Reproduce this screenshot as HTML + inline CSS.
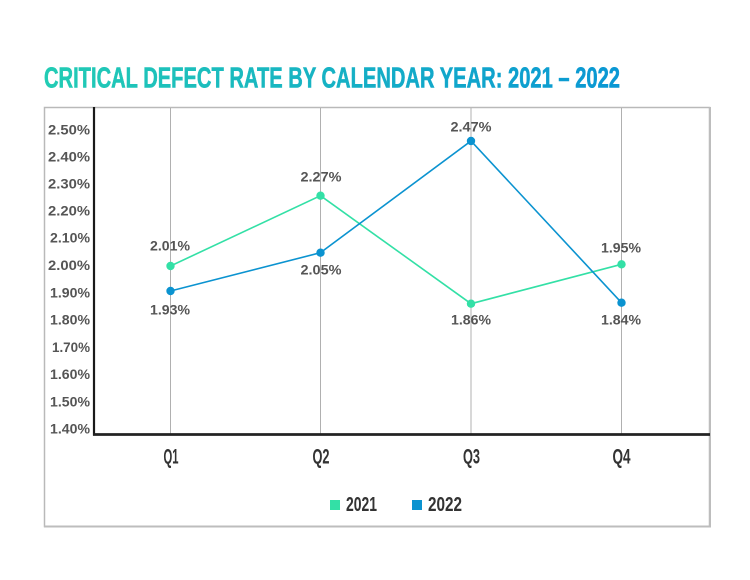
<!DOCTYPE html>
<html>
<head>
<meta charset="utf-8">
<style>
  html, body { margin: 0; padding: 0; background: #fff; }
  body { width: 750px; height: 580px; overflow: hidden; }
  svg { display: block; }
</style>
</head>
<body>
<svg width="750" height="580" viewBox="0 0 750 580" xmlns="http://www.w3.org/2000/svg">
  <defs>
    <linearGradient id="tg" x1="0" y1="0" x2="1" y2="0">
      <stop offset="0" stop-color="#22ccb4"/>
      <stop offset="1" stop-color="#0a97d4"/>
    </linearGradient>
  </defs>
  <rect width="750" height="580" fill="#fff"/>

  <!-- Title -->
  <text x="44" y="87.5" font-family="Liberation Sans, sans-serif" font-weight="bold" font-size="29" fill="url(#tg)" stroke="url(#tg)" stroke-width="0.6" textLength="576" lengthAdjust="spacingAndGlyphs">CRITICAL DEFECT RATE BY CALENDAR YEAR: 2021 – 2022</text>

  <!-- Outer frame -->
  <rect x="44.5" y="107.5" width="665" height="419" fill="none" stroke="#b9b9b9" stroke-width="1.5"/>
  <line x1="44" y1="526.5" x2="711" y2="526.5" stroke="#bdbdbd" stroke-width="2"/>
  <line x1="710" y1="107" x2="710" y2="527" stroke="#bdbdbd" stroke-width="2"/>

  <!-- Vertical gridlines -->
  <g stroke="#b0b0b0" stroke-width="1">
    <line x1="170.5" y1="108" x2="170.5" y2="434"/>
    <line x1="320.5" y1="108" x2="320.5" y2="434"/>
    <line x1="471" y1="108" x2="471" y2="434"/>
    <line x1="621.5" y1="108" x2="621.5" y2="434"/>
  </g>

  <!-- Axes -->
  <line x1="94" y1="107" x2="94" y2="435.5" stroke="#1a1a1a" stroke-width="2.2"/>
  <line x1="93" y1="434.5" x2="710" y2="434.5" stroke="#222" stroke-width="2.8"/>

  <!-- Y tick labels -->
  <g font-family="Liberation Sans, sans-serif" font-weight="bold" font-size="13.5" fill="#555" text-anchor="end">
    <text x="90" y="134.5" textLength="42" lengthAdjust="spacingAndGlyphs">2.50%</text>
    <text x="90" y="161.5" textLength="42" lengthAdjust="spacingAndGlyphs">2.40%</text>
    <text x="90" y="188.5" textLength="42" lengthAdjust="spacingAndGlyphs">2.30%</text>
    <text x="90" y="215.5" textLength="42" lengthAdjust="spacingAndGlyphs">2.20%</text>
    <text x="90" y="242.5" textLength="40" lengthAdjust="spacingAndGlyphs">2.10%</text>
    <text x="90" y="270" textLength="42" lengthAdjust="spacingAndGlyphs">2.00%</text>
    <text x="90" y="297.5" textLength="40" lengthAdjust="spacingAndGlyphs">1.90%</text>
    <text x="90" y="324.5" textLength="40" lengthAdjust="spacingAndGlyphs">1.80%</text>
    <text x="90" y="352" textLength="38" lengthAdjust="spacingAndGlyphs">1.70%</text>
    <text x="90" y="379" textLength="40" lengthAdjust="spacingAndGlyphs">1.60%</text>
    <text x="90" y="406.5" textLength="40" lengthAdjust="spacingAndGlyphs">1.50%</text>
    <text x="90" y="433.5" textLength="40" lengthAdjust="spacingAndGlyphs">1.40%</text>
  </g>

  <!-- Series 2021 -->
  <polyline points="170.5,266 320.5,195.7 471,303.7 621.5,264.3" fill="none" stroke="#33e0a6" stroke-width="1.6"/>
  <g fill="#33e0a6">
    <circle cx="170.5" cy="266" r="4.2"/>
    <circle cx="320.5" cy="195.7" r="4.2"/>
    <circle cx="471" cy="303.7" r="4.2"/>
    <circle cx="621.5" cy="264.3" r="4.2"/>
  </g>

  <!-- Series 2022 -->
  <polyline points="170.5,291 320.5,252.7 471,141 621.5,302.7" fill="none" stroke="#0b93d0" stroke-width="1.6"/>
  <g fill="#0b93d0">
    <circle cx="170.5" cy="291" r="4.2"/>
    <circle cx="320.5" cy="252.7" r="4.2"/>
    <circle cx="471" cy="141" r="4.2"/>
    <circle cx="621.5" cy="302.7" r="4.2"/>
  </g>

  <!-- Data labels -->
  <g font-family="Liberation Sans, sans-serif" font-weight="bold" font-size="14" fill="#555" text-anchor="middle">
    <text x="170" y="250.5" textLength="40" lengthAdjust="spacingAndGlyphs">2.01%</text>
    <text x="170" y="314.5" textLength="40" lengthAdjust="spacingAndGlyphs">1.93%</text>
    <text x="321" y="181.5" textLength="41" lengthAdjust="spacingAndGlyphs">2.27%</text>
    <text x="321" y="274.5" textLength="41" lengthAdjust="spacingAndGlyphs">2.05%</text>
    <text x="471" y="131.5" textLength="41" lengthAdjust="spacingAndGlyphs">2.47%</text>
    <text x="471" y="324.5" textLength="40" lengthAdjust="spacingAndGlyphs">1.86%</text>
    <text x="621" y="252.5" textLength="40" lengthAdjust="spacingAndGlyphs">1.95%</text>
    <text x="621" y="324.5" textLength="40" lengthAdjust="spacingAndGlyphs">1.84%</text>
  </g>

  <!-- X labels -->
  <g font-family="Liberation Sans, sans-serif" font-weight="bold" font-size="21" fill="#333" text-anchor="middle">
    <text x="171" y="463.5" textLength="15" lengthAdjust="spacingAndGlyphs">Q1</text>
    <text x="321" y="463.5" textLength="17" lengthAdjust="spacingAndGlyphs">Q2</text>
    <text x="471.5" y="463.5" textLength="17" lengthAdjust="spacingAndGlyphs">Q3</text>
    <text x="621.5" y="463.5" textLength="18" lengthAdjust="spacingAndGlyphs">Q4</text>
  </g>

  <!-- Legend -->
  <rect x="330" y="500" width="10" height="10" fill="#33e0a6"/>
  <text x="346" y="511" font-family="Liberation Sans, sans-serif" font-weight="bold" font-size="20" fill="#333" textLength="31" lengthAdjust="spacingAndGlyphs">2021</text>
  <rect x="412" y="500" width="10" height="10" fill="#0b93d0"/>
  <text x="428" y="511" font-family="Liberation Sans, sans-serif" font-weight="bold" font-size="20" fill="#333" textLength="34" lengthAdjust="spacingAndGlyphs">2022</text>
</svg>
</body>
</html>
